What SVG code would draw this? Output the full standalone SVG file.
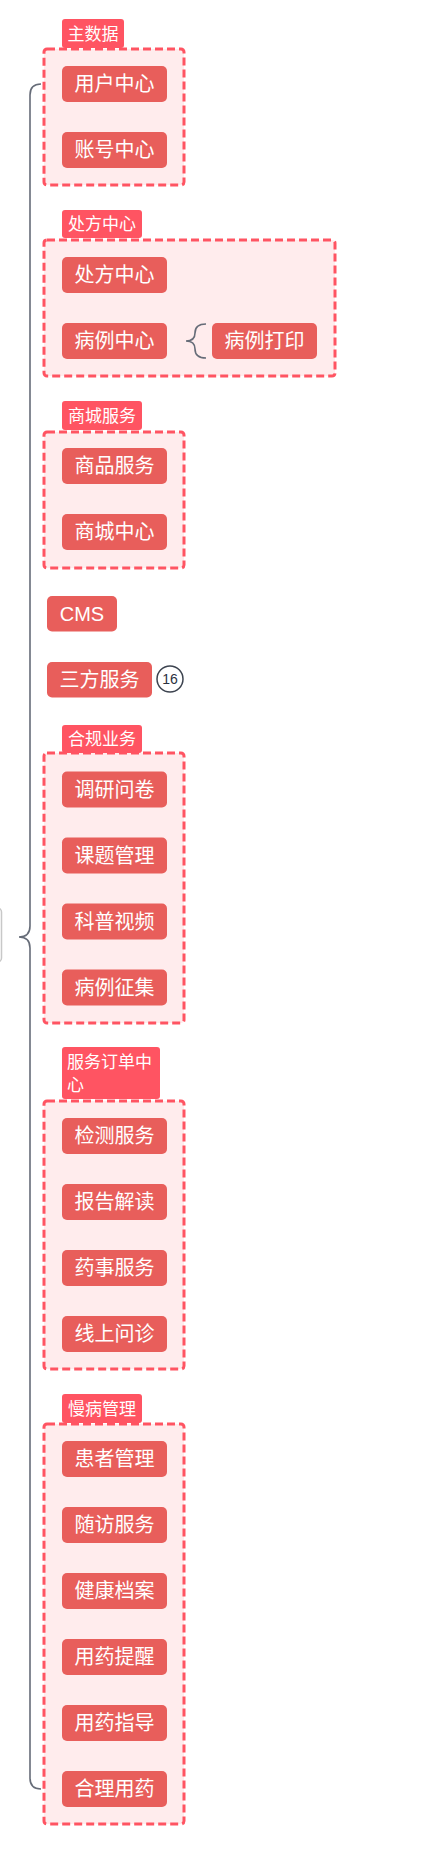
<svg xmlns="http://www.w3.org/2000/svg" width="426" height="1860" viewBox="0 0 426 1860">
<style>
.box{fill:#ffeced;stroke:#ff5462;stroke-width:3;stroke-dasharray:8 4}
.lab{fill:#ff5462}
.node{fill:#e85e5b}
.lt{font-family:"Noto Sans CJK SC","Liberation Sans",sans-serif;font-size:17px;fill:#fff}
.nt{font-family:"Noto Sans CJK SC","Liberation Sans",sans-serif;font-size:20px;fill:#fff;text-anchor:middle}
.conn{fill:none;stroke:#666c78;stroke-width:1.6}
</style>
<rect width="426" height="1860" fill="#fff"/>
<g id="root"><rect x="-60" y="908" width="61.5" height="54" rx="4" fill="#fff" stroke="#c8c8c8" stroke-width="1.5"/></g>
<g id="g-zhushuju">
<rect class="box" x="44" y="49" width="140" height="136" rx="3"/>
<rect class="lab" x="62" y="19" width="62" height="29" rx="3"/>
<text class="lt" x="93" y="40" text-anchor="middle">主数据</text>
</g>
<g id="n-yonghu"><rect class="node" x="62" y="66" width="105" height="36" rx="5"/><text class="nt" x="114.5" y="91">用户中心</text></g>
<g id="n-zhanghao"><rect class="node" x="62" y="132" width="105" height="36" rx="5"/><text class="nt" x="114.5" y="157">账号中心</text></g>

<g id="g-chufang">
<rect class="box" x="44" y="240" width="291" height="136" rx="3"/>
<rect class="lab" x="62" y="210" width="80" height="28" rx="3"/>
<text class="lt" x="102" y="230" text-anchor="middle">处方中心</text>
</g>
<g id="n-chufang"><rect class="node" x="62" y="257" width="105" height="36" rx="5"/><text class="nt" x="114.5" y="282">处方中心</text></g>
<g id="n-bingli"><rect class="node" x="62" y="323" width="105" height="36" rx="5"/><text class="nt" x="114.5" y="348">病例中心</text></g>
<g id="n-binglidayin"><rect class="node" x="212" y="323" width="105" height="36" rx="5"/><text class="nt" x="264.5" y="348">病例打印</text></g>

<g id="g-shangcheng">
<rect class="box" x="44" y="432" width="140" height="136" rx="3"/>
<rect class="lab" x="62" y="401" width="80" height="29" rx="3"/>
<text class="lt" x="102" y="422" text-anchor="middle">商城服务</text>
</g>
<g id="n-shangpin"><rect class="node" x="62" y="448" width="105" height="36" rx="5"/><text class="nt" x="114.5" y="473">商品服务</text></g>
<g id="n-shangchengzx"><rect class="node" x="62" y="514" width="105" height="36" rx="5"/><text class="nt" x="114.5" y="539">商城中心</text></g>

<g id="n-cms"><rect class="node" x="47" y="596" width="70" height="35.5" rx="5"/><text class="nt" x="82" y="620.5" style="font-family:'Liberation Sans',sans-serif">CMS</text></g>
<g id="n-sanfang"><rect class="node" x="47" y="662" width="105" height="35.5" rx="5"/><text class="nt" x="99.5" y="686.5">三方服务</text></g>
<g id="badge-16"><circle cx="170" cy="679" r="13" fill="#fff" stroke="#3d4450" stroke-width="1.5"/><text x="170" y="684" text-anchor="middle" font-family="Liberation Sans, sans-serif" font-size="14" fill="#2b3140">16</text></g>

<g id="g-hegui">
<rect class="box" x="44" y="753" width="140" height="270" rx="3"/>
<rect class="lab" x="62" y="725" width="80" height="28" rx="3"/>
<text class="lt" x="102" y="745" text-anchor="middle">合规业务</text>
</g>
<g id="n-diaoyan"><rect class="node" x="62" y="771.5" width="105" height="36" rx="5"/><text class="nt" x="114.5" y="796.5">调研问卷</text></g>
<g id="n-keti"><rect class="node" x="62" y="837.5" width="105" height="36" rx="5"/><text class="nt" x="114.5" y="862.5">课题管理</text></g>
<g id="n-kepu"><rect class="node" x="62" y="903.5" width="105" height="36" rx="5"/><text class="nt" x="114.5" y="928.5">科普视频</text></g>
<g id="n-zhengji"><rect class="node" x="62" y="969.5" width="105" height="36" rx="5"/><text class="nt" x="114.5" y="994.5">病例征集</text></g>

<g id="g-fuwudingdan">
<rect class="box" x="44" y="1101" width="140" height="268" rx="3"/>
<rect class="lab" x="62" y="1047" width="98" height="52" rx="3"/>
<text class="lt" x="67" y="1068">服务订单中</text>
<text class="lt" x="67" y="1091">心</text>
</g>
<g id="n-jiance"><rect class="node" x="62" y="1118" width="105" height="36" rx="5"/><text class="nt" x="114.5" y="1143">检测服务</text></g>
<g id="n-baogao"><rect class="node" x="62" y="1184" width="105" height="36" rx="5"/><text class="nt" x="114.5" y="1209">报告解读</text></g>
<g id="n-yaoshi"><rect class="node" x="62" y="1250" width="105" height="36" rx="5"/><text class="nt" x="114.5" y="1275">药事服务</text></g>
<g id="n-xianshang"><rect class="node" x="62" y="1316" width="105" height="36" rx="5"/><text class="nt" x="114.5" y="1341">线上问诊</text></g>

<g id="g-manbing">
<rect class="box" x="44" y="1424" width="140" height="400" rx="3"/>
<rect class="lab" x="62" y="1394" width="80" height="29" rx="3"/>
<text class="lt" x="102" y="1415" text-anchor="middle">慢病管理</text>
</g>
<g id="n-huanzhe"><rect class="node" x="62" y="1441" width="105" height="36" rx="5"/><text class="nt" x="114.5" y="1466">患者管理</text></g>
<g id="n-suifang"><rect class="node" x="62" y="1507" width="105" height="36" rx="5"/><text class="nt" x="114.5" y="1532">随访服务</text></g>
<g id="n-jiankang"><rect class="node" x="62" y="1573" width="105" height="36" rx="5"/><text class="nt" x="114.5" y="1598">健康档案</text></g>
<g id="n-tixing"><rect class="node" x="62" y="1639" width="105" height="36" rx="5"/><text class="nt" x="114.5" y="1664">用药提醒</text></g>
<g id="n-zhidao"><rect class="node" x="62" y="1705" width="105" height="36" rx="5"/><text class="nt" x="114.5" y="1730">用药指导</text></g>
<g id="n-heli"><rect class="node" x="62" y="1771" width="105" height="36" rx="5"/><text class="nt" x="114.5" y="1796">合理用药</text></g>
<g id="connectors">
<path class="conn" d="M41,84 Q30,84 30,95 L30,926 Q30,937 19,937 Q30,937 30,948 L30,1778 Q30,1789 41,1789"/>
<path class="conn" d="M206,324 Q195,324 195,333 Q195,341 186,341 Q195,341 195,349 Q195,358 206,358"/>
</g>
</svg>
